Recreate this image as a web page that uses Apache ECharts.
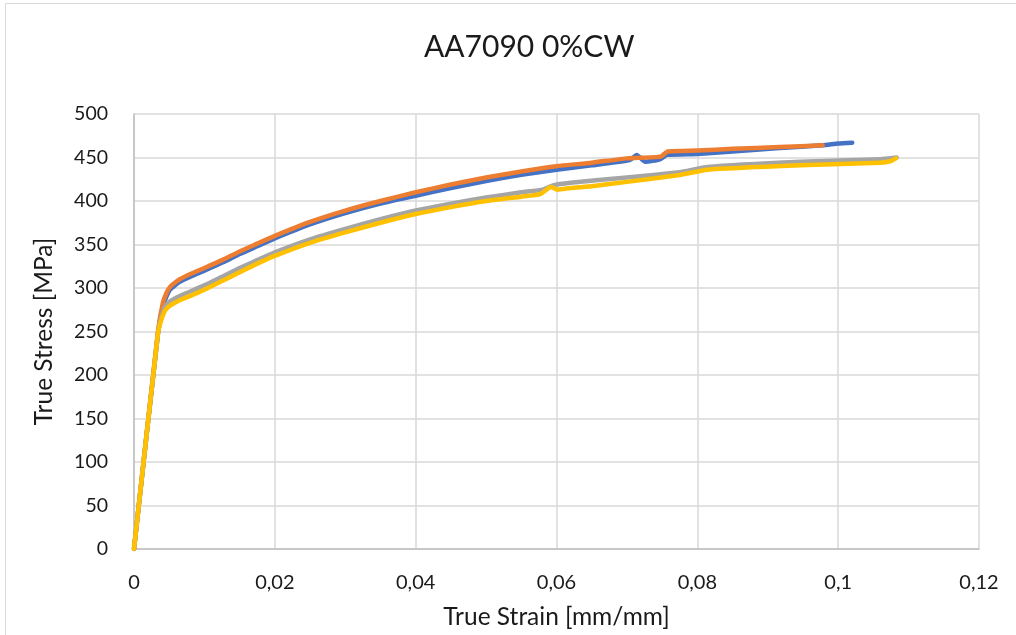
<!DOCTYPE html>
<html>
<head>
<meta charset="utf-8">
<script src="https://cdn.jsdelivr.net/npm/echarts@6/dist/echarts.min.js"></script>
<style>
  html, body { margin: 0; padding: 0; background: #fff; }
  #chart { width: 1016px; height: 635px; }
</style>
</head>
<body>
<div id="chart"></div>
<script>
// True stress-strain curves, AA7090 with 0% cold work: [strain, stress MPa]
const specimen1 = [
  [0,0],[0.0034,247],[0.0041,279],[0.0046,290],[0.0051,298],[0.0058,303],[0.0065,307],
  [0.008,313],[0.01,320],[0.0125,329],[0.015,339],[0.0175,348],[0.02,357],[0.025,373],
  [0.03,386],[0.035,397],[0.04,406],[0.045,415],[0.05,423],[0.055,430],[0.06,436],
  [0.065,441],[0.0704,447],[0.0714,453],[0.0726,445],[0.0747,448],[0.0757,453],[0.08,454],
  [0.085,457],[0.0917,461],[0.0978,464],[0.1,466],[0.102,467]
];
const specimen2 = [
  [0,0],[0.0034,250],[0.0041,283],[0.0046,294],[0.0051,301],[0.0058,306],[0.0065,310],
  [0.008,316],[0.01,323],[0.0125,332],[0.015,342],[0.0175,351],[0.02,360],[0.025,376],
  [0.03,389],[0.035,400],[0.04,410],[0.045,419],[0.05,427],[0.055,434],[0.06,440],
  [0.065,444],[0.07,449],[0.0748,451],[0.0758,457],[0.08,458],[0.085,460],[0.0917,462],
  [0.0978,464]
];
const specimen3 = [
  [0,0],[0.0034,248],[0.0039,267],[0.0044,278],[0.005,284],[0.0058,288],[0.0068,292],
  [0.008,296],[0.01,303],[0.0125,313],[0.015,323],[0.0175,332],[0.02,341],[0.025,356],
  [0.03,368],[0.035,379],[0.04,389],[0.045,397],[0.05,404],[0.055,410],[0.058,413],
  [0.0595,418],[0.062,421],[0.07,427],[0.0775,433],[0.0814,439],[0.0946,445],[0.106,448],
  [0.1083,450]
];
const specimen4 = [
  [0,0],[0.0034,248],[0.0039,264],[0.0044,274],[0.005,279],[0.0058,283],[0.0068,287],
  [0.008,291],[0.01,298],[0.0125,308],[0.015,318],[0.0175,328],[0.02,337],[0.025,352],
  [0.03,364],[0.035,375],[0.04,385],[0.045,393],[0.05,400],[0.055,405],[0.0577,408],
  [0.0592,416],[0.0602,413],[0.062,415],[0.065,417],[0.07,422],[0.0775,430],[0.0814,436],
  [0.0946,441],[0.106,444],[0.1075,446],[0.1082,449]
];
const seriesColors = ['#4472C4', '#ED7D31', '#A5A5A5', '#FFC000'];
const strainTicks = [0, 0.02, 0.04, 0.06, 0.08, 0.1, 0.12];

const chart = echarts.init(document.getElementById('chart'), null, { renderer: 'canvas' });
const font = 'Lato, "Open Sans", sans-serif';
const textColor = '#1a1a1a';

function curve(name, data, color) {
  return {
    name, type: 'line', data, showSymbol: false, smooth: 0.15,
    lineStyle: { color, width: 4.5, cap: 'round', join: 'round' },
    itemStyle: { color }
  };
}

chart.setOption({
  animation: false,
  backgroundColor: '#fff',
  title: {
    text: 'AA7090 0%CW', left: 419, top: 27,
    textStyle: { fontFamily: font, fontSize: 30, fontWeight: 'normal', color: textColor }
  },
  graphic: [{
    type: 'rect', shape: { x: 5.5, y: 3.5, width: 1100, height: 700 },
    style: { fill: 'none', stroke: '#d9d9d9', lineWidth: 1 }, silent: true
  }],
  grid: { left: 134, right: 37, top: 114, bottom: 86, containLabel: false },
  xAxis: {
    type: 'value', min: 0, max: 0.12, interval: 0.02,
    name: 'True Strain [mm/mm]', nameLocation: 'middle', nameGap: 56,
    nameTextStyle: { fontFamily: font, fontSize: 24.5, color: textColor },
    axisLine: { show: true, lineStyle: { color: '#bfbfbf', width: 1.5 } },
    axisTick: { show: false },
    splitLine: { show: true, lineStyle: { color: '#d9d9d9', width: 1.5 } },
    axisLabel: {
      fontFamily: font, fontSize: 20, color: textColor, margin: 24,
      formatter: v => {
        const t = strainTicks.find(s => Math.abs(s - v) < 1e-9);
        return (t === undefined ? v : t).toString().replace('.', ',');
      }
    }
  },
  yAxis: {
    type: 'value', min: 0, max: 500, interval: 50,
    name: 'True Stress [MPa]', nameLocation: 'middle', nameGap: 77, nameRotate: 90,
    nameTextStyle: { fontFamily: font, fontSize: 24.5, color: textColor },
    axisLine: { show: true, lineStyle: { color: '#bfbfbf', width: 1.5 } },
    axisTick: { show: false },
    splitLine: { show: true, lineStyle: { color: '#d9d9d9', width: 1.5 } },
    axisLabel: { fontFamily: font, fontSize: 19.5, color: textColor, margin: 26 }
  },
  series: [
    curve('1', specimen1, seriesColors[0]),
    curve('2', specimen2, seriesColors[1]),
    curve('3', specimen3, seriesColors[2]),
    curve('4', specimen4, seriesColors[3])
  ]
});
</script>
</body>
</html>
